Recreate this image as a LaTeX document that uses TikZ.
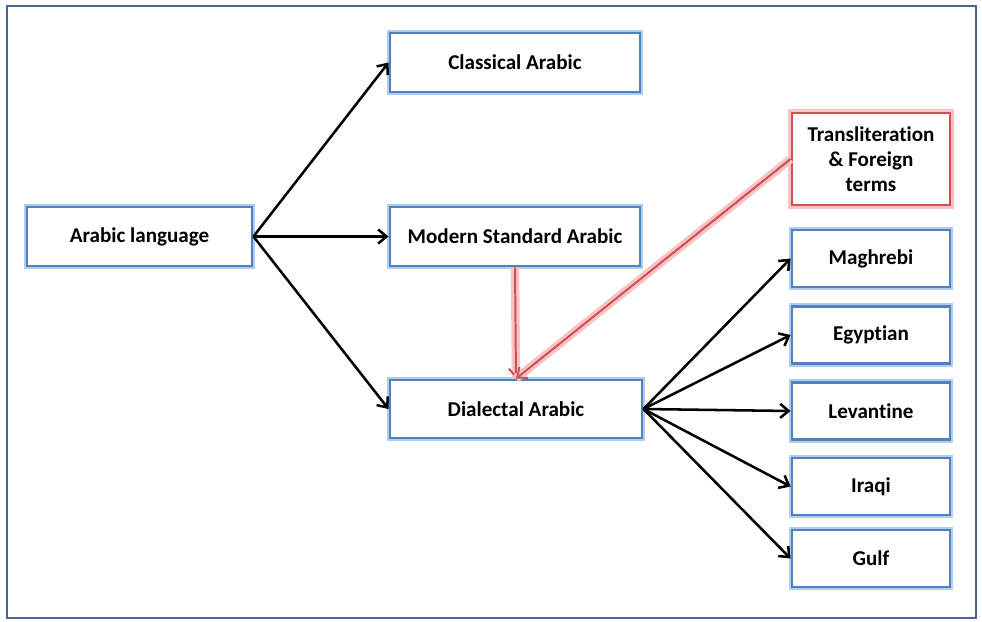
\documentclass[tikz,border=0pt]{standalone}
\usepackage{fontspec}
\setmainfont{Carlito}[Ligatures=NoCommon]
\usetikzlibrary{arrows.meta}
\definecolor{boxblue}{RGB}{79,129,189}
\definecolor{glowblue}{RGB}{175,205,238}
\definecolor{boxred}{RGB}{205,80,85}
\definecolor{glowred}{RGB}{249,195,195}
\definecolor{framecol}{RGB}{72,102,140}
\begin{document}
\begin{tikzpicture}[x=0.025cm, y=-0.025cm,
  blk/.style={draw=boxblue, line width=2pt, fill=white, inner sep=0pt,
    preaction={draw=glowblue, line width=4.5pt},
    font=\bfseries\fontsize{15}{18}\selectfont, align=center},
  redblk/.style={blk, draw=boxred, preaction={draw=glowred, line width=5pt}},
  arr/.style={-{Straight Barb[length=6pt,width=10pt]}, line width=1.8pt},
  redarr/.style={-{Straight Barb[length=6pt,width=10pt]}, line width=1.4pt, boxred,
    preaction={draw=glowred, line width=6pt, -}}]

\useasboundingbox (0,0) rectangle (982,621);
\draw[framecol, line width=2pt] (7,6) rectangle (976,618);

\node[blk, minimum width=5.625cm, minimum height=1.475cm] (lang) at (139.5,236.5) {Arabic language};
\node[blk, minimum width=6.25cm, minimum height=1.475cm] (classical) at (515,62.5) {Classical Arabic};
\node[blk, minimum width=6.25cm, minimum height=1.475cm] (msa) at (515,236.5) {Modern Standard Arabic};
\node[blk, minimum width=6.3cm, minimum height=1.45cm] (dialectal) at (516,409) {Dialectal Arabic};
\node[redblk, minimum width=3.95cm, minimum height=2.3cm] (translit) at (871,159) {Transliteration\\ \& Foreign\\ terms};
\node[blk, minimum width=3.95cm, minimum height=1.425cm] (maghrebi) at (871,258.5) {Maghrebi};
\node[blk, minimum width=3.95cm, minimum height=1.425cm] (egyptian) at (871,335) {Egyptian};
\node[blk, minimum width=3.95cm, minimum height=1.425cm] (levantine) at (871,411) {Levantine};
\node[blk, minimum width=3.95cm, minimum height=1.425cm] (iraqi) at (871,486.5) {Iraqi};
\node[blk, minimum width=3.95cm, minimum height=1.425cm] (gulf) at (871,558.5) {Gulf};

\draw[arr] (lang.east) -- (classical.west);
\draw[arr] (lang.east) -- (msa.west);
\draw[arr] (lang.east) -- (dialectal.west);
\foreach \n in {maghrebi,egyptian,levantine,iraqi,gulf}
  \draw[arr] (dialectal.east) -- (\n.west);
\draw[redarr] (msa.south) -- (dialectal.north);
\draw[redarr] (translit.west) -- (dialectal.north);
\end{tikzpicture}
\end{document}
